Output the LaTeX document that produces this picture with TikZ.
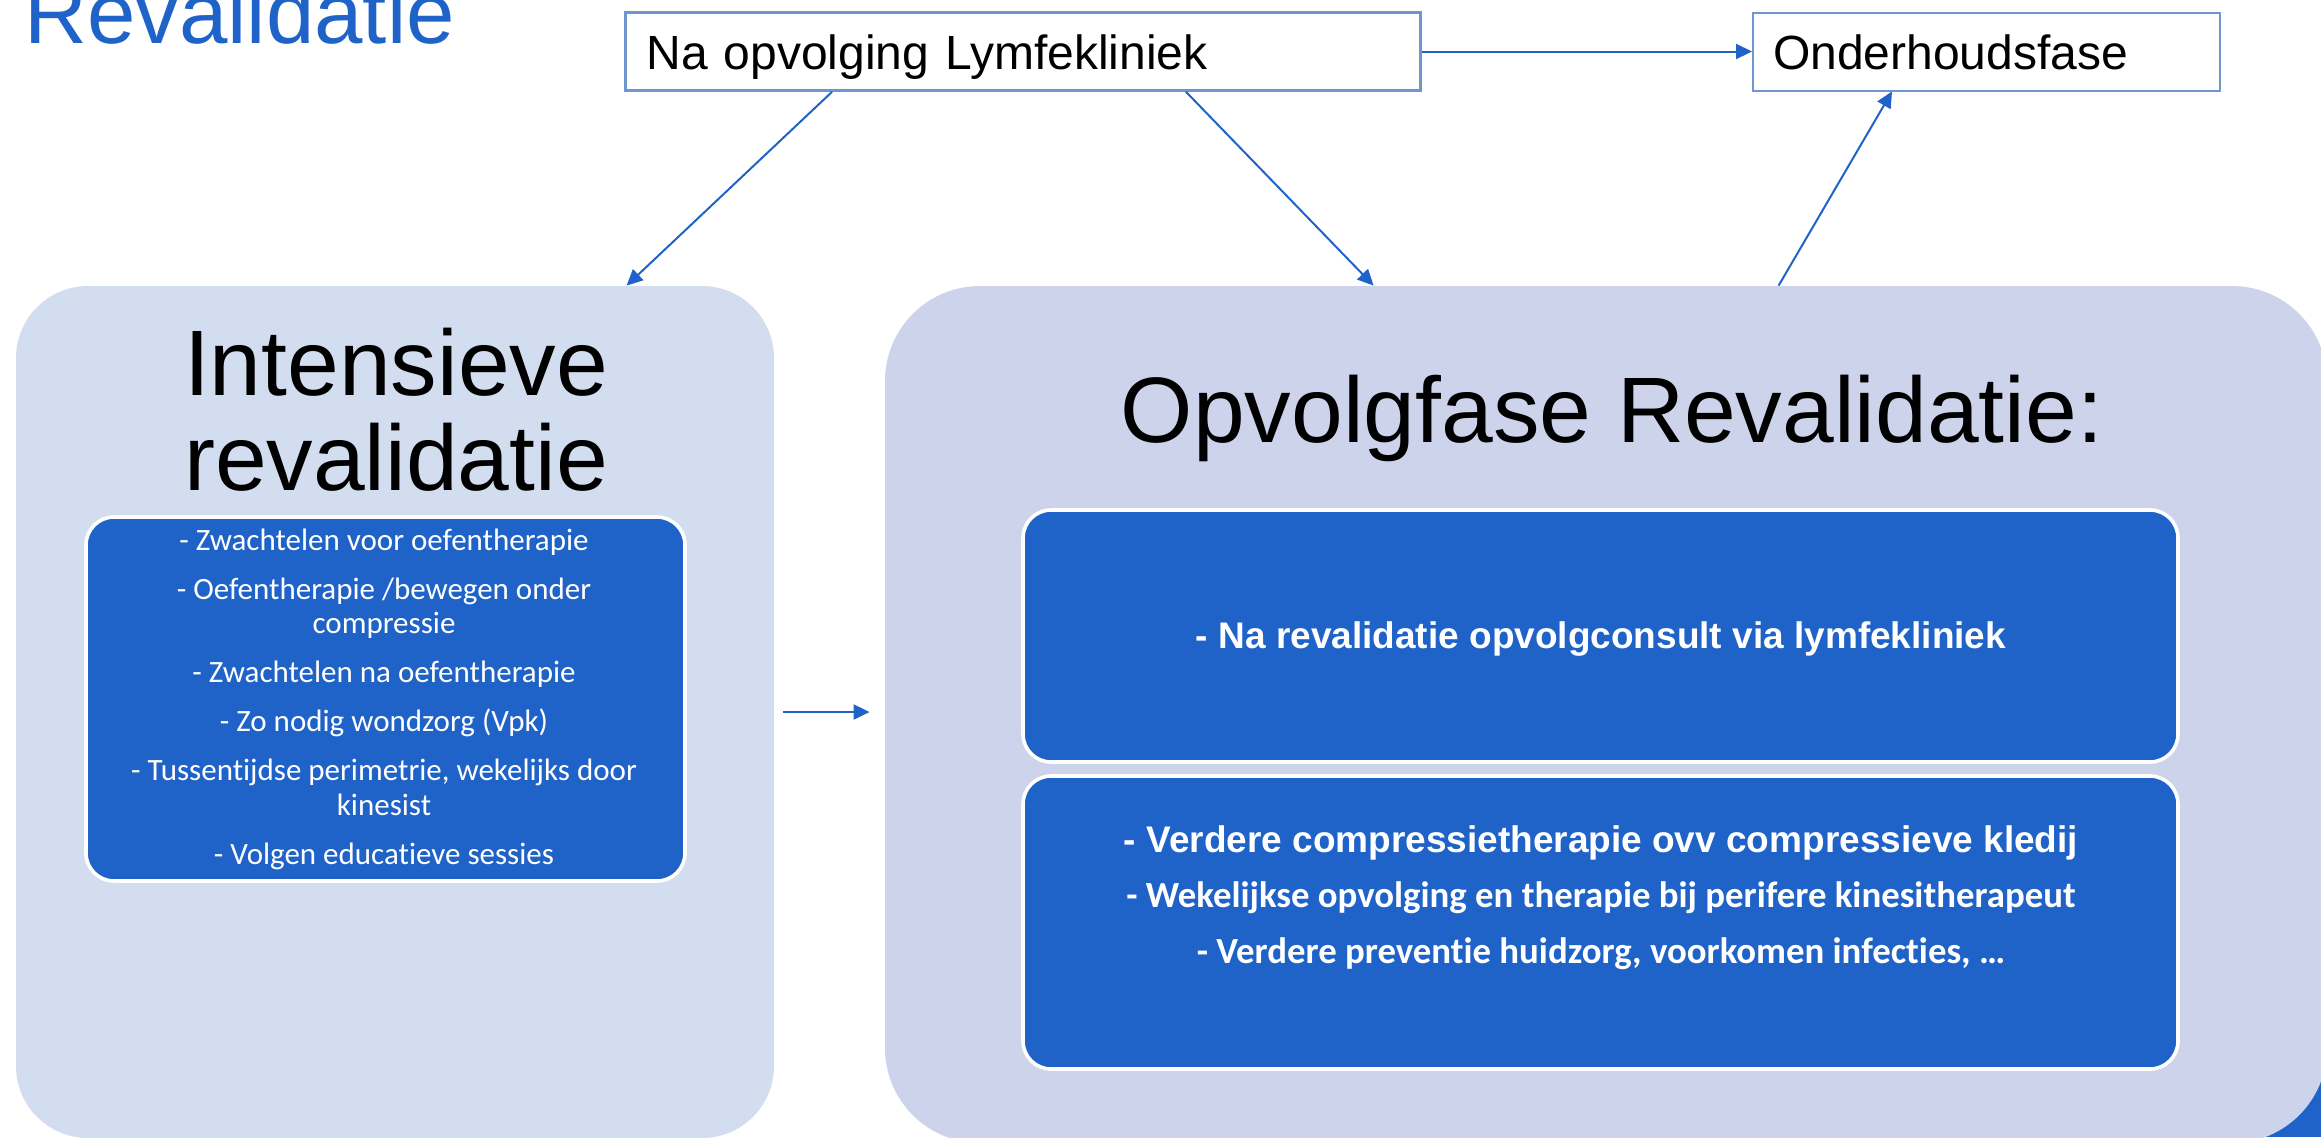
\documentclass[tikz,border=0pt]{standalone}
\usepackage{fontspec}
\setmainfont{Liberation Sans}
\newfontfamily\calib[Ligatures={NoCommon}]{Carlito}
\usetikzlibrary{arrows.meta,calc}
\definecolor{blueA}{HTML}{1F63C8}
\definecolor{boxline}{HTML}{7096CF}
\definecolor{leftfill}{HTML}{D2DDEF}
\definecolor{rightfill}{HTML}{CDD3EB}
\begin{document}
\begin{tikzpicture}[x=0.5pt,y=-0.5pt,
  conn/.style={draw=blueA, line width=1pt, -{Triangle[length=8pt,width=7.5pt]}},
  topbox/.style={rectangle, draw=boxline, fill=white, anchor=west, align=left,
     inner ysep=0pt, text height=20pt, text depth=2.5pt, minimum height=39pt,
     font=\fontsize{24pt}{28pt}\selectfont},
  bigbox/.style={rectangle, inner sep=0pt, draw=none},
  innerbox/.style={rectangle, inner sep=0pt, fill=blueA, draw=white, line width=1.8pt, rounded corners=14pt},
  bigtitle/.style={anchor=base, inner sep=0pt, font=\fontsize{46.5pt}{47.5pt}\selectfont},
  listtxt/.style={anchor=base, inner sep=0pt, text=white, font={\calib\fontsize{15.5pt}{17pt}\selectfont}},
  boldarial/.style={anchor=base, inner sep=0pt, text=white, font={\bfseries\fontsize{18.5pt}{22pt}\selectfont}},
  boldcalib/.style={anchor=base, inner sep=0pt, text=white, font={\calib\bfseries\fontsize{18.4pt}{22pt}\selectfont}}
]
\useasboundingbox (0,0) rectangle (2321,1137);
\clip (0,0) rectangle (2321,1137);

% title
\node[anchor=base west, inner sep=0pt, text=blueA, font=\fontsize{43.5pt}{48pt}\selectfont] (title) at (24,43) {Revalidatie};

% top boxes
\node[topbox, line width=1.35pt, text width=376.5pt, inner xsep=10.5pt] (na) at (624,51.5) {Na opvolging Lymfekliniek};
\node[topbox, line width=1pt, text width=213.5pt, inner xsep=10pt] (onder) at (1752,51.5) {Onderhoudsfase};

% blue corner behind right box
\fill[blueA] (2200,1000) rectangle (2321,1137);

% big boxes
\node[bigbox, fill=leftfill, rounded corners=36pt, minimum width=379pt, minimum height=426pt] (intens) at (395,712) {};
\node[bigbox, fill=rightfill, rounded corners=47.5pt, minimum width=721pt, minimum height=428.5pt] (opvolg) at (1606,714.5) {};

% titles in big boxes
\node[bigtitle] (it1) at (396,395) {Intensieve};
\node[bigtitle] (it2) at (396,490) {revalidatie};
\node[bigtitle] (ot) at (1612,442) {Opvolgfase Revalidatie:};

% inner left box
\node[innerbox, minimum width=299.5pt, minimum height=182pt] (lbox) at (385.5,699) {};
\node[listtxt] (l1) at (384,550) {- Zwachtelen voor oefentherapie};
\node[listtxt] (l2) at (384,599) {- Oefentherapie /bewegen onder};
\node[listtxt] (l3) at (384,633.5) {compressie};
\node[listtxt] (l4) at (384,682.5) {- Zwachtelen na oefentherapie};
\node[listtxt] (l5) at (384,731.5) {- Zo nodig wondzorg (Vpk)};
\node[listtxt] (l6) at (384,780.5) {- Tussentijdse perimetrie, wekelijks door};
\node[listtxt] (l7) at (384,815) {kinesist};
\node[listtxt] (l8) at (384,864) {- Volgen educatieve sessies};

% inner right boxes
\node[innerbox, minimum width=577.5pt, minimum height=126pt] (rbox1) at (1600.5,636) {};
\node[boldarial] (r1) at (1601,648) {- Na revalidatie opvolgconsult via lymfekliniek};
\node[innerbox, minimum width=577.5pt, minimum height=146.5pt] (rbox2) at (1600.5,922.5) {};
\node[boldarial] (r2) at (1601,852) {- Verdere compressietherapie ovv compressieve kledij};
\node[boldcalib] (r3) at (1601,907) {- Wekelijkse opvolging en therapie bij perifere kinesitherapeut};
\node[boldcalib] (r4) at (1601,963) {- Verdere preventie huidzorg, voorkomen infecties, …};

% connectors
\draw[conn] (na.east) -- (onder.west);
\draw[conn] ($(na.south west)+(208,0)$) -- ($(intens.north west)+(611,0)$);
\draw[conn] ($(na.south west)+(562,0)$) -- ($(opvolg.north west)+(489,0)$);
\draw[conn] ($(opvolg.north west)+(894,0)$) -- ($(onder.south west)+(140,0)$);
\draw[conn] ($(intens.east)+(9,0)$) -- ($(intens.east -| opvolg.west)+(-15,0)$);
\end{tikzpicture}
\end{document}
